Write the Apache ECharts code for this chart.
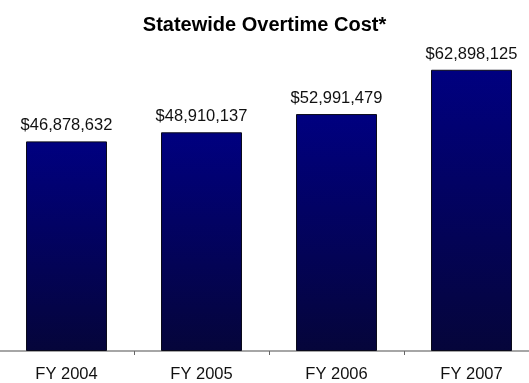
<!DOCTYPE html>
<html>
<head>
<meta charset="utf-8">
<script src="https://cdn.jsdelivr.net/npm/echarts@6/dist/echarts.min.js"></script>
<style>
  html, body { margin: 0; padding: 0; background: #ffffff; }
  #chart { width: 529px; height: 383px; }
</style>
</head>
<body>
<div id="chart"></div>
<script>
// Fiscal years and statewide overtime cost (USD)
const years = ['FY 2004', 'FY 2005', 'FY 2006', 'FY 2007'];
const overtimeCost = [46878632, 48910137, 52991479, 62898125];

const fmtDollars = v => '$' + v.toLocaleString('en-US');

const chart = echarts.init(document.getElementById('chart'));
chart.setOption({
  backgroundColor: '#ffffff',
  animation: false,
  title: {
    text: 'Statewide Overtime Cost*',
    left: 'center',
    top: 10,
    textStyle: {
      fontFamily: 'Liberation Sans, Arial, sans-serif',
      fontSize: 20,
      fontWeight: 'bold',
      color: '#000000'
    }
  },
  grid: { left: -1, right: -10, top: 38, bottom: 32, outerBoundsMode: 'none', containLabel: false },
  xAxis: {
    type: 'category',
    data: years,
    axisLine: { lineStyle: { color: '#888888', width: 1.5 } },
    axisTick: { show: true, alignWithLabel: false, length: 4, lineStyle: { color: '#666666' } },
    axisLabel: {
      margin: 15,
      fontFamily: 'Liberation Sans, Arial, sans-serif',
      fontSize: 16.5,
      color: '#111111'
    }
  },
  yAxis: {
    type: 'value',
    min: 0,
    max: 70000000,
    show: false,
    splitLine: { show: false }
  },
  series: [{
    type: 'bar',
    data: overtimeCost,
    barCategoryGap: '40%',
    itemStyle: {
      color: new echarts.graphic.LinearGradient(0, 0, 0, 1, [
        { offset: 0, color: '#000080' },
        { offset: 1, color: '#05053a' }
      ]),
      borderColor: '#0a0a1a',
      borderWidth: 1
    },
    label: {
      show: true,
      position: 'top',
      distance: 7,
      formatter: p => fmtDollars(p.value),
      fontFamily: 'Liberation Sans, Arial, sans-serif',
      fontSize: 16.5,
      color: '#111111'
    }
  }]
});
</script>
</body>
</html>
